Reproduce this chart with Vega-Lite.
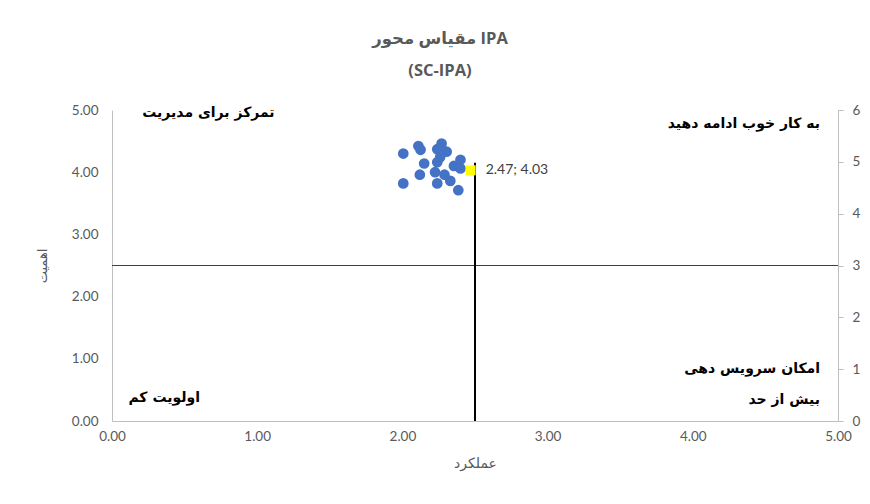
{
  "$schema": "https://vega.github.io/schema/vega-lite/v6.json",
  "width": 726,
  "height": 311,
  "autosize": {"type": "none"},
  "padding": {"left": 112, "top": 110, "right": 32, "bottom": 83},
  "background": "white",
  "config": {
    "view": {"stroke": null},
    "font": "Lato, DejaVu Sans",
    "axis": {
      "labelColor": "#595959",
      "labelFontSize": 13.5,
      "labelFont": "Lato",
      "labelFlush": false,
      "titleColor": "#595959",
      "titleFontWeight": "normal",
      "titleFontSize": 14,
      "domainColor": "#BFBFBF",
      "grid": false,
      "ticks": false
    }
  },
  "title": {
    "text": ["مقیاس محور IPA", "(SC-IPA)"],
    "anchor": "middle",
    "dx": -35,
    "offset": 24,
    "fontSize": 16.5,
    "lineHeight": 32,
    "fontWeight": "bold",
    "color": "#595959",
    "font": "Open Sans, DejaVu Sans"
  },
  "layer": [
    {
      "layer": [
        {
          "data": {"values": [{"y": 2.5}]},
          "mark": {"type": "rule", "color": "#404040", "strokeWidth": 1},
          "encoding": {
            "y": {"field": "y", "type": "quantitative", "scale": {"domain": [0, 5]}}
          }
        },
        {
          "data": {"values": [{"x": 2.5, "y": 0, "y2": 4.15}]},
          "mark": {"type": "rule", "color": "#000000", "strokeWidth": 2},
          "encoding": {
            "x": {"field": "x", "type": "quantitative"},
            "y": {"field": "y", "type": "quantitative"},
            "y2": {"field": "y2"}
          }
        },
        {
          "data": {
            "values": [
              {"x": 2.006, "y": 4.30},
              {"x": 2.11, "y": 4.42},
              {"x": 2.125, "y": 4.36},
              {"x": 2.27, "y": 4.46},
              {"x": 2.24, "y": 4.37},
              {"x": 2.305, "y": 4.33},
              {"x": 2.15, "y": 4.14},
              {"x": 2.24, "y": 4.16},
              {"x": 2.26, "y": 4.24},
              {"x": 2.40, "y": 4.20},
              {"x": 2.355, "y": 4.10},
              {"x": 2.40, "y": 4.06},
              {"x": 2.12, "y": 3.96},
              {"x": 2.225, "y": 4.00},
              {"x": 2.29, "y": 3.96},
              {"x": 2.24, "y": 3.82},
              {"x": 2.33, "y": 3.86},
              {"x": 2.006, "y": 3.82},
              {"x": 2.385, "y": 3.71}
            ]
          },
          "mark": {"type": "circle", "size": 115, "color": "#4472C4", "opacity": 1},
          "encoding": {
            "x": {
              "field": "x", "type": "quantitative",
              "scale": {"domain": [0, 5], "nice": false, "zero": true},
              "axis": {"values": [0, 1, 2, 3, 4, 5], "format": ".2f", "title": "عملکرد", "labelPadding": 8, "titlePadding": 14, "titleFont": "DejaVu Sans", "titleFontSize": 14}
            },
            "y": {
              "field": "y", "type": "quantitative",
              "scale": {"domain": [0, 5], "nice": false},
              "axis": {"values": [0, 1, 2, 3, 4, 5], "format": ".2f", "title": "اهمیت", "labelPadding": 14, "titlePadding": 22, "titleFont": "DejaVu Sans", "titleFontSize": 13}
            }
          }
        },
        {
          "data": {"values": [{"x": 2.47, "y": 4.03, "label": "2.47; 4.03"}]},
          "layer": [
            {
              "mark": {"type": "square", "size": 100, "color": "#FFFF00", "opacity": 1, "filled": true},
              "encoding": {
                "x": {"field": "x", "type": "quantitative"},
                "y": {"field": "y", "type": "quantitative"}
              }
            },
            {
              "mark": {"type": "text", "align": "left", "dx": 15, "fontSize": 14, "color": "#404040", "font": "Lato"},
              "encoding": {
                "x": {"field": "x", "type": "quantitative"},
                "y": {"field": "y", "type": "quantitative"},
                "text": {"field": "label"}
              }
            }
          ]
        },
        {
          "data": {
            "values": [
              {"x": 1.12, "y": 4.95, "label": "تمرکز برای مدیریت"},
              {"x": 4.876, "y": 4.775, "label": "به کار خوب ادامه دهید"},
              {"x": 4.876, "y": 0.836, "label": "امکان سرویس دهی"},
              {"x": 4.876, "y": 0.338, "label": "بیش از حد"},
              {"x": 0.606, "y": 0.37, "label": "اولویت کم"}
            ]
          },
          "mark": {"type": "text", "align": "right", "baseline": "middle", "fontSize": 14, "fontWeight": "bold", "color": "#000000", "font": "DejaVu Sans"},
          "encoding": {
            "x": {"field": "x", "type": "quantitative"},
            "y": {"field": "y", "type": "quantitative"},
            "text": {"field": "label"}
          }
        }
      ]
    },
    {
      "data": {"values": [{"v": 0}, {"v": 6}]},
      "mark": {"type": "point", "opacity": 0},
      "encoding": {
        "y": {
          "field": "v", "type": "quantitative",
          "scale": {"domain": [0, 6], "nice": false},
          "axis": {"orient": "right", "title": null, "values": [0, 1, 2, 3, 4, 5, 6], "format": "d", "ticks": true, "tickColor": "#BFBFBF", "tickSize": 5, "labelPadding": 9}
        }
      }
    }
  ],
  "resolve": {"scale": {"y": "independent"}}
}
